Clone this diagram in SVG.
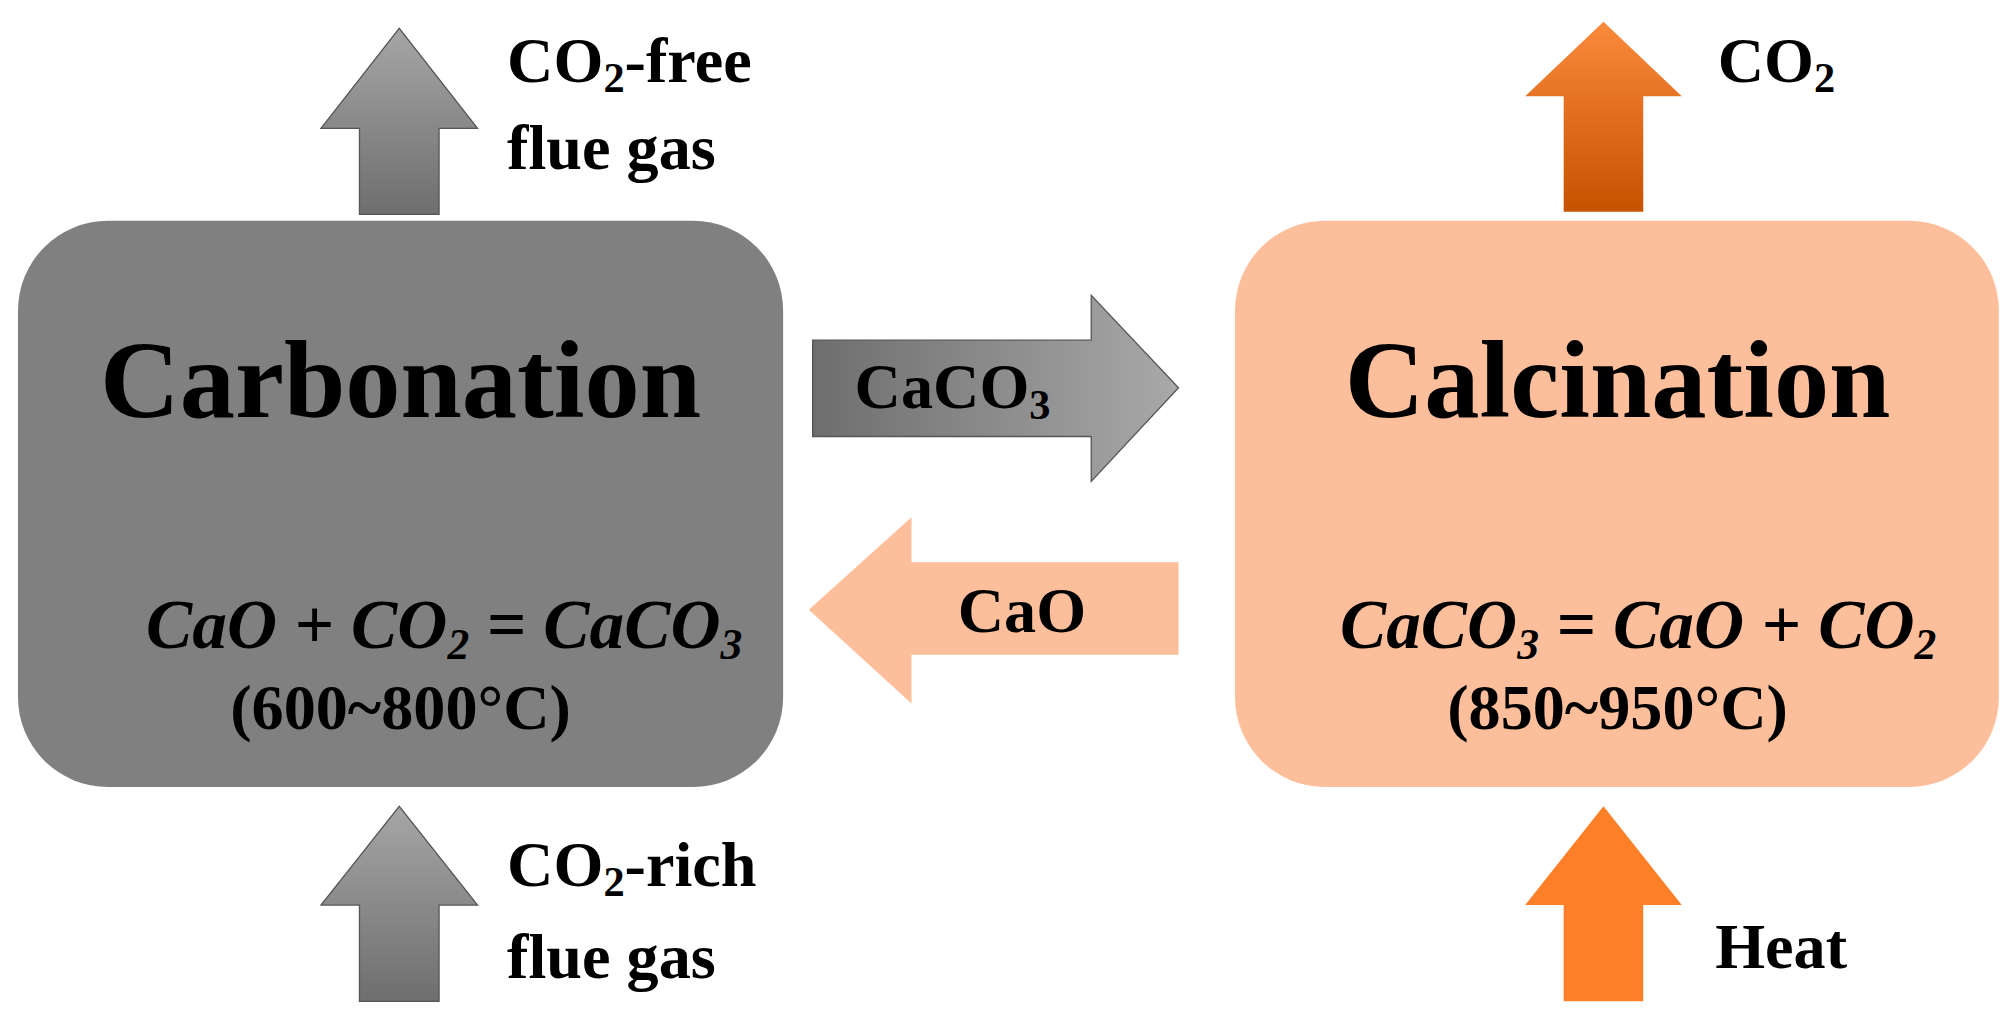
<svg xmlns="http://www.w3.org/2000/svg" width="2013" height="1025" viewBox="0 0 2013 1025">
<defs>
<linearGradient id="gv" x1="0" y1="0" x2="0" y2="1"><stop offset="0" stop-color="#a6a6a6"/><stop offset="1" stop-color="#6e6e6e"/></linearGradient>
<linearGradient id="gh" x1="0" y1="0" x2="1" y2="0"><stop offset="0" stop-color="#6e6e6e"/><stop offset="1" stop-color="#a9a9a9"/></linearGradient>
<linearGradient id="ov" x1="0" y1="0" x2="0" y2="1"><stop offset="0" stop-color="#fb8a3c"/><stop offset="1" stop-color="#c65200"/></linearGradient>
<style>
text{font-family:"Liberation Serif","Times New Roman",serif;font-weight:bold;fill:#000}
.t{font-size:86px}.f{font-size:54px;font-style:italic}.c{font-size:50px}.l{font-size:50px}
.ar{stroke:#555;stroke-width:1}
</style>
</defs>
<rect width="2013" height="1025" fill="#fff"/>
<g transform="scale(1.2838)">
<g id="carbonation">
<rect x="14" y="172" width="596" height="441" rx="70" fill="#808080"/>
<text class="t" x="312" y="325" text-anchor="middle">Carbonation</text>
<text class="f" x="346" y="505" text-anchor="middle">CaO + CO<tspan font-size="34" dy="8">2</tspan><tspan dy="-8"> = CaCO</tspan><tspan font-size="34" dy="8">3</tspan></text>
<text class="c" x="312" y="568" text-anchor="middle">(600~800°C)</text>
</g>
<g id="calcination">
<rect x="962" y="172" width="595" height="441" rx="70" fill="#fdbf9b"/>
<text class="t" x="1260" y="325" text-anchor="middle">Calcination</text>
<text class="f" x="1276" y="505" text-anchor="middle">CaCO<tspan font-size="34" dy="8">3</tspan><tspan dy="-8"> = CaO + CO</tspan><tspan font-size="34" dy="8">2</tspan></text>
<text class="c" x="1260" y="568" text-anchor="middle">(850~950°C)</text>
</g>
<g id="connectors">
<polygon class="ar" fill="url(#gv)" points="280,167 280,100 250,100 311,22 372,100 342,100 342,167"/>
<polygon class="ar" fill="url(#gv)" points="280,780 280,705 250,705 311,628 372,705 342,705 342,780"/>
<polygon fill="url(#ov)" points="1218,165 1218,75 1188,75 1249,17 1310,75 1280,75 1280,165"/>
<polygon fill="#fd7f28" points="1218,780 1218,705 1188,705 1249,628 1310,705 1280,705 1280,780"/>
<polygon class="ar" fill="url(#gh)" points="633,265 850,265 850,230 918,302 850,375 850,340 633,340"/>
<polygon fill="#fdbf9b" points="918,438 710,438 710,403 630,475 710,548 710,510 918,510"/>
</g>
<g id="labels">
<text class="l" x="395" y="64">CO<tspan font-size="33" dy="8">2</tspan><tspan dy="-8">-free</tspan></text>
<text class="l" x="395" y="132">flue gas</text>
<text class="l" x="395" y="690">CO<tspan font-size="33" dy="8">2</tspan><tspan dy="-8">-rich</tspan></text>
<text class="l" x="395" y="762">flue gas</text>
<text class="l" x="1338" y="64">CO<tspan font-size="33" dy="8">2</tspan></text>
<text class="l" x="1336" y="754">Heat</text>
<text class="l" x="742" y="318" text-anchor="middle">CaCO<tspan font-size="33" dy="8">3</tspan></text>
<text class="l" x="796" y="492" text-anchor="middle">CaO</text>
</g>
</g>
</svg>
